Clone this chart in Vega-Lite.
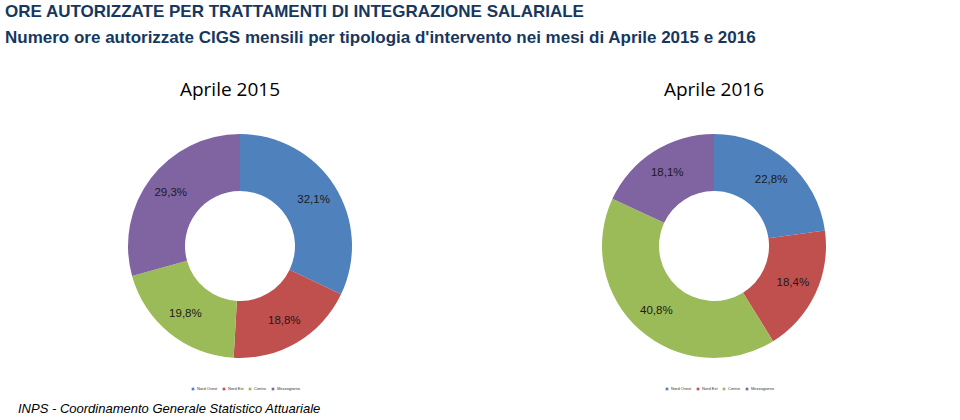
{
  "$schema": "https://vega.github.io/schema/vega-lite/v6.json",
  "background": "white",
  "padding": {"left": 5, "top": 3, "right": 5, "bottom": 0},
  "title": {
    "text": "ORE AUTORIZZATE PER TRATTAMENTI DI INTEGRAZIONE SALARIALE",
    "subtitle": "Numero ore autorizzate CIGS mensili per tipologia d'intervento nei mesi di Aprile 2015 e 2016",
    "anchor": "start",
    "font": "Liberation Sans",
    "fontSize": 17,
    "fontWeight": "bold",
    "color": "#17375E",
    "subtitleFont": "Liberation Sans",
    "subtitleFontSize": 17,
    "subtitleFontWeight": "bold",
    "subtitleColor": "#17375E",
    "subtitlePadding": 9,
    "offset": 34
  },
  "datasets": {
    "a2015": [
      {"area": "Nord Ovest", "pct": 32.1, "ord": 1},
      {"area": "Nord Est", "pct": 18.8, "ord": 2},
      {"area": "Centro", "pct": 19.8, "ord": 3},
      {"area": "Mezzogiorno", "pct": 29.3, "ord": 4}
    ],
    "a2016": [
      {"area": "Nord Ovest", "pct": 22.8, "ord": 1},
      {"area": "Nord Est", "pct": 18.4, "ord": 2},
      {"area": "Centro", "pct": 40.8, "ord": 3},
      {"area": "Mezzogiorno", "pct": 18.1, "ord": 4}
    ]
  },
  "vconcat": [
    {
      "title": {
        "text": "INPS - Coordinamento Generale Statistico Attuariale",
        "orient": "bottom",
        "anchor": "start",
        "font": "Liberation Sans",
        "fontSize": 13,
        "fontStyle": "italic",
        "fontWeight": "normal",
        "color": "#000000",
        "dx": 13,
        "offset": 12
      },
      "spacing": 4,
      "hconcat": [
        {
          "title": {"text": "Aprile 2015", "dx": -10},
          "width": 470,
          "height": 240,
          "data": {"name": "a2015"},
          "encoding": {
            "theta": {"field": "pct", "type": "quantitative", "stack": true},
            "order": {"field": "ord", "type": "quantitative"}
          },
          "layer": [
            {
              "mark": {"type": "arc", "innerRadius": 55, "outerRadius": 112},
              "encoding": {
                "color": {
                  "field": "area",
                  "type": "nominal",
                  "scale": {"domain": ["Nord Ovest", "Nord Est", "Centro", "Mezzogiorno"], "range": ["#4F81BD", "#C0504D", "#9BBB59", "#8064A2"]},
                  "legend": {"title": null}
                }
              }
            },
            {
              "mark": {"type": "text", "radius": 87, "font": "Liberation Sans", "fontSize": 11.5, "color": "#1a1a1a", "text": {"expr": "replace(format(datum.pct, '.1f'), '.', ',') + '%'"}},
              "encoding": {}
            }
          ]
        },
        {
          "title": {"text": "Aprile 2016"},
          "width": 470,
          "height": 240,
          "data": {"name": "a2016"},
          "encoding": {
            "theta": {"field": "pct", "type": "quantitative", "stack": true},
            "order": {"field": "ord", "type": "quantitative"}
          },
          "layer": [
            {
              "mark": {"type": "arc", "innerRadius": 55, "outerRadius": 112},
              "encoding": {
                "color": {
                  "field": "area",
                  "type": "nominal",
                  "scale": {"domain": ["Nord Ovest", "Nord Est", "Centro", "Mezzogiorno"], "range": ["#4F81BD", "#C0504D", "#9BBB59", "#8064A2"]},
                  "legend": {"title": null}
                }
              }
            },
            {
              "mark": {"type": "text", "radius": 87, "font": "Liberation Sans", "fontSize": 11.5, "color": "#1a1a1a", "text": {"expr": "replace(format(datum.pct, '.1f'), '.', ',') + '%'"}},
              "encoding": {}
            }
          ]
        }
      ],
      "resolve": {"scale": {"color": "independent", "theta": "independent"}, "legend": {"color": "independent"}}
    }
  ],
  "config": {
    "view": {"stroke": null},
    "title": {"font": "Open Sans", "fontSize": 19, "fontWeight": "normal", "color": "#000000", "anchor": "middle", "offset": 26},
    "legend": {
      "orient": "none",
      "legendX": 186,
      "legendY": 261,
      "direction": "horizontal",
      "symbolType": "square",
      "symbolSize": 7,
      "symbolStrokeWidth": 0,
      "labelFont": "Liberation Sans",
      "labelFontSize": 4,
      "labelColor": "#333333",
      "labelOffset": 2,
      "columnPadding": 4
    }
  }
}
